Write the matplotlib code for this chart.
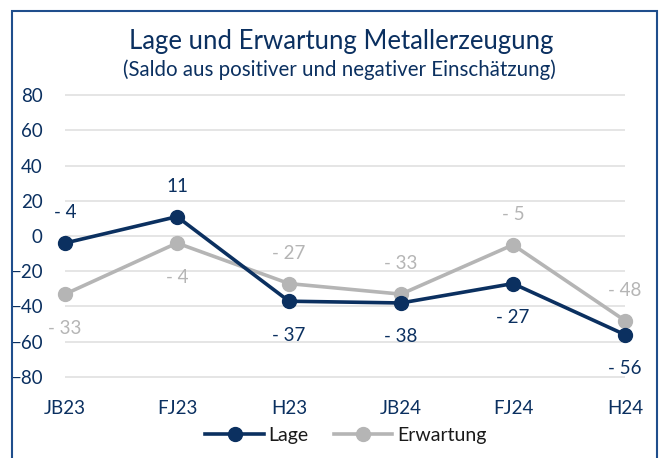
import matplotlib
matplotlib.use('Agg')
import matplotlib.pyplot as plt
from matplotlib.patches import Rectangle

plt.rcParams['font.family'] = ['Lato', 'DejaVu Sans']

# Daten
perioden = ['JB23', 'FJ23', 'H23', 'JB24', 'FJ24', 'H24']
lage = [-4, 11, -37, -38, -27, -56]
erwartung = [-33, -4, -27, -33, -5, -48]
# Position der Beschriftung: 1 = oben, -1 = unten
lage_pos = [1, 1, -1, -1, -1, -1]
erw_pos = [-1, -1, 1, 1, 1, 1]

blau = '#0b3060'
grau = '#b5b5b5'

W, H = 664, 458
fig = plt.figure(figsize=(W / 100, H / 100), dpi=100)
fig.patch.set_facecolor('white')

# Rahmen
fig.patches.append(Rectangle((12 / W, -0.05), (657 - 12) / W, 1.05 - 11 / H,
                             transform=fig.transFigure, fill=False,
                             edgecolor='#1f4e8c', linewidth=1.5))

y_top, y_bot = 95 - 3.5, 377 + 3.5
ax = fig.add_axes([65 / W, 1 - y_bot / H, (625 - 65) / W, (y_bot - y_top) / H])
x = list(range(len(perioden)))

ax.plot(x, erwartung, color=grau, lw=2.6, marker='o', ms=10, clip_on=False,
        zorder=3, label='Erwartung')
ax.plot(x, lage, color=blau, lw=2.6, marker='o', ms=10, clip_on=False,
        zorder=4, label='Lage')


def fmt(v):
    return '- %d' % abs(v) if v < 0 else '%d' % v


def off(p):
    return 22 if p > 0 else -24.5


for xi, v, p in zip(x, lage, lage_pos):
    ax.annotate(fmt(v), (xi, v), xytext=(0, off(p)), textcoords='offset points',
                ha='center', va='center', color=blau, fontsize=13.5)
for xi, v, p in zip(x, erwartung, erw_pos):
    ax.annotate(fmt(v), (xi, v), xytext=(0, off(p)), textcoords='offset points',
                ha='center', va='center', color=grau, fontsize=13.5)

ax.set_xlim(0, 5)
ax.set_ylim(-82, 82)
ax.set_yticks(range(-80, 81, 20))
ax.set_xticks(x)
ax.set_xticklabels(perioden)
ax.grid(axis='y', color='#e0e0e0', lw=1.2)
ax.set_axisbelow(True)
for s in ax.spines.values():
    s.set_visible(False)
ax.tick_params(axis='both', length=0, colors=blau, labelsize=13.5)
ax.tick_params(axis='y', pad=16)
ax.tick_params(axis='x', pad=14)

fig.text(341 / W, 1 - 42 / H, 'Lage und Erwartung Metallerzeugung',
         ha='center', va='center', color=blau, fontsize=18.5)
fig.text(339 / W, 1 - 70 / H, '(Saldo aus positiver und negativer Einschätzung)',
         ha='center', va='center', color=blau, fontsize=14.8)

h, l = ax.get_legend_handles_labels()
fig.legend(h[::-1], l[::-1], loc='center', bbox_to_anchor=(346 / W, 1 - 435 / H),
           ncol=2, frameon=False, fontsize=14, handlelength=3.0,
           columnspacing=1.3, handletextpad=0.25, labelcolor='#1a1a1a')

plt.savefig('out.png', dpi=100)
